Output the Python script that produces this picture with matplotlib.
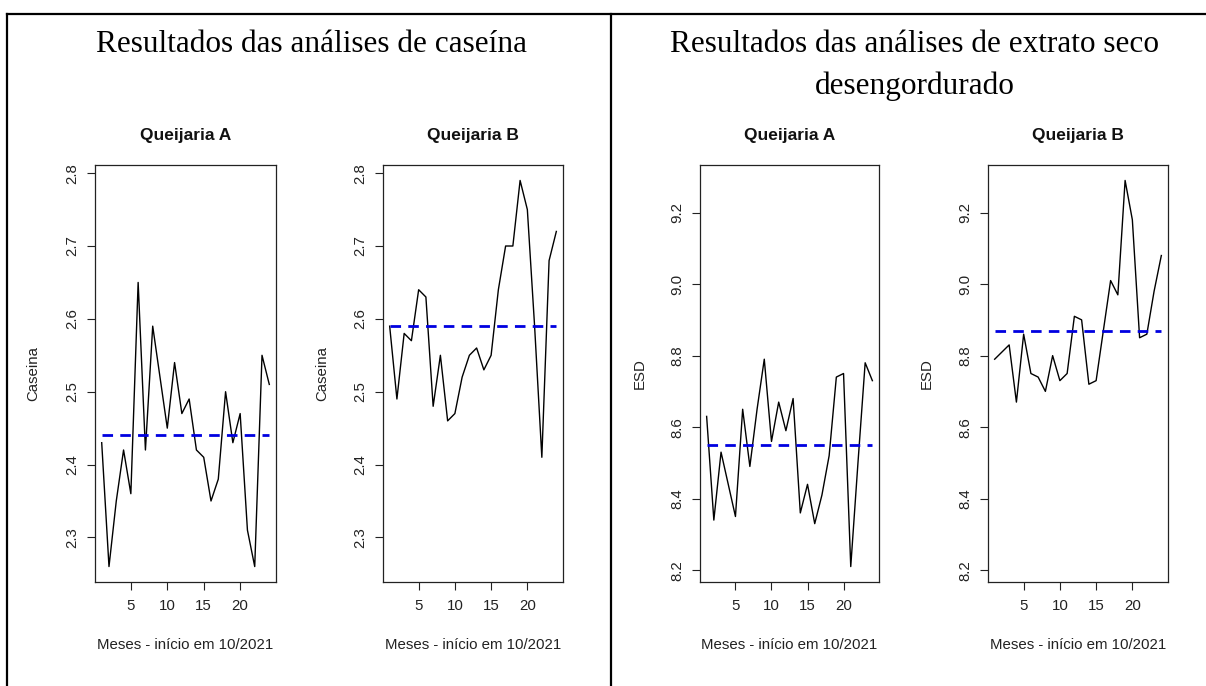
import matplotlib
matplotlib.use('Agg')
import matplotlib.pyplot as plt
from matplotlib.lines import Line2D

# months since 10/2021
meses = list(range(1, 25))

caseina_a = [2.43, 2.26, 2.35, 2.42, 2.36, 2.65, 2.42, 2.59, 2.52, 2.45, 2.54, 2.47,
             2.49, 2.42, 2.41, 2.35, 2.38, 2.50, 2.43, 2.47, 2.31, 2.26, 2.55, 2.51]
caseina_b = [2.59, 2.49, 2.58, 2.57, 2.64, 2.63, 2.48, 2.55, 2.46, 2.47, 2.52, 2.55,
             2.56, 2.53, 2.55, 2.64, 2.70, 2.70, 2.79, 2.75, 2.59, 2.41, 2.68, 2.72]
esd_a = [8.63, 8.34, 8.53, 8.44, 8.35, 8.65, 8.49, 8.65, 8.79, 8.56, 8.67, 8.59,
         8.68, 8.36, 8.44, 8.33, 8.41, 8.52, 8.74, 8.75, 8.21, 8.50, 8.78, 8.73]
esd_b = [8.79, 8.81, 8.83, 8.67, 8.86, 8.75, 8.74, 8.70, 8.80, 8.73, 8.75, 8.91,
         8.90, 8.72, 8.73, 8.87, 9.01, 8.97, 9.29, 9.18, 8.85, 8.86, 8.98, 9.08]

media_caseina = [2.44, 2.59]
media_esd = [8.55, 8.87]

titulos = ['Queijaria A', 'Queijaria B']
caseina_ticks = [2.3, 2.4, 2.5, 2.6, 2.7, 2.8]
esd_ticks = [8.2, 8.4, 8.6, 8.8, 9.0, 9.2]
mes_ticks = [5, 10, 15, 20]

W, H = 1206, 686
fig = plt.figure(figsize=(W / 100, H / 100), dpi=100)


def box(x0, x1, y0=165, y1=582):
    return [x0 / W, 1 - y1 / H, (x1 - x0) / W, (y1 - y0) / H]


def r_range(*series):
    lo = min(min(s) for s in series)
    hi = max(max(s) for s in series)
    d = (hi - lo) * 0.04
    return lo - d, hi + d


FS = 10.8
tick_font = dict(family='Liberation Sans', size=FS, color='#222222')

painel = [
    (box(95, 276), caseina_a, media_caseina[0], titulos[0], 'Caseina', caseina_ticks, r_range(caseina_a, caseina_b)),
    (box(383, 563), caseina_b, media_caseina[1], titulos[1], 'Caseina', caseina_ticks, r_range(caseina_a, caseina_b)),
    (box(700, 879), esd_a, media_esd[0], titulos[0], 'ESD', esd_ticks, r_range(esd_a, esd_b)),
    (box(988, 1168), esd_b, media_esd[1], titulos[1], 'ESD', esd_ticks, r_range(esd_a, esd_b)),
]

for rect, serie, media, titulo, ylab, yt, ylim in painel:
    ax = fig.add_axes(rect)
    ax.plot(meses, serie, color='black', lw=1.0)
    ax.plot([meses[0], meses[-1]], [media, media], color='#0000E0', lw=2.0,
            dashes=(3.8, 2.6))
    d = (meses[-1] - meses[0]) * 0.04
    ax.set_xlim(meses[0] - d, meses[-1] + d)
    ax.set_ylim(*ylim)
    ax.set_xticks(mes_ticks)
    ax.set_yticks(yt)
    ax.set_yticklabels(['%.1f' % v for v in yt])
    ax.tick_params(length=6, width=0.8, color='#222222', direction='out')
    ax.tick_params(axis='x', pad=6)
    ax.tick_params(axis='y', pad=5)
    for lbl in ax.get_xticklabels() + ax.get_yticklabels():
        lbl.set_fontfamily('Liberation Sans')
        lbl.set_fontsize(FS)
        lbl.set_color('#222222')
    for lbl in ax.get_yticklabels():
        lbl.set_rotation(90)
        lbl.set_va('center')
    for sp in ax.spines.values():
        sp.set_linewidth(0.9)
        sp.set_color('#222222')
    ax.set_title(titulo, fontsize=12.5, fontweight='bold', family='Liberation Sans',
                 color='#111111', pad=18)
    ax.set_xlabel('Meses - início em 10/2021', **tick_font)
    ax.xaxis.set_label_coords(0.5, -0.135)
    ax.set_ylabel(ylab, **tick_font)
    ax.yaxis.set_label_coords(-0.30, 0.5)

# headers of the table cells
serif = dict(family='Liberation Serif', size=22.5, color='black', ha='center', va='center')
fig.text(311 / W, 1 - 45 / H, 'Resultados das análises de caseína', **serif)
fig.text(915 / W, 1 - 45 / H, 'Resultados das análises de extrato seco', **serif)
fig.text(915 / W, 1 - 86 / H, 'desengordurado', **serif)

# table borders
fig.add_artist(Line2D([7 / W, 1], [1 - 14 / H, 1 - 14 / H], color='black', lw=1.6))
fig.add_artist(Line2D([7 / W, 7 / W], [0, 1 - 14 / H], color='black', lw=1.6))
fig.add_artist(Line2D([611 / W, 611 / W], [0, 1 - 14 / H], color='black', lw=1.6))

plt.savefig('out.png', dpi=100)
